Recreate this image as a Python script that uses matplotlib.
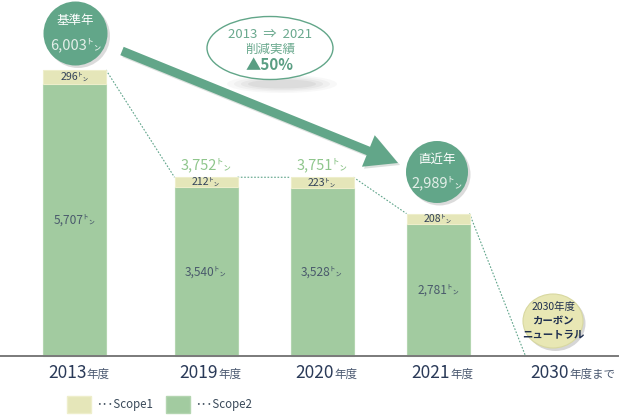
import matplotlib
matplotlib.use("Agg")
import matplotlib.pyplot as plt
from matplotlib.patches import Circle, Ellipse, FancyArrow, Patch

plt.rcParams['font.family'] = ['Noto Sans CJK JP', 'DejaVu Sans']

# ---- data ----
years = ['2013', '2019', '2020', '2021', '2030']
year_suffix = ['年度', '年度', '年度', '年度', '年度まで']
scope1 = [296, 212, 223, 208]
scope2 = [5707, 3540, 3528, 2781]
base_title = '基準年'
recent_title = '直近年'
reduction_lines = ['2013  ⇒  2021', '削減実績', '▲50%']
goal_lines = ['2030年度', 'カーボン', 'ニュートラル']
legend_labels = ['･･･Scope1', '･･･Scope2']
unit = '㌧'

totals = [a + b for a, b in zip(scope1, scope2)]

# ---- layout (pixel based) ----
W, H = 620, 415
x_centers = [74.5, 206, 322, 438, 557]
bar_w = 63
base_px = 356          # baseline from top
top_px = 70            # top of the tallest bar
s = (base_px - top_px) / max(totals)   # px per ton

c_s1 = '#e5e6b9'
c_s2 = '#a2cba0'
c_teal = '#62a689'
c_txt = '#33435a'

fig = plt.figure(figsize=(W / 100, H / 100), dpi=100)
ax = fig.add_axes([0, 0, 1, 1])
ax.set_xlim(0, W)
ax.set_ylim(-(H - base_px) / s, base_px / s)
ax.axis('off')

n = len(scope2)
xs = x_centers[:n]
ax.bar(xs, scope2, width=bar_w, color=c_s2, edgecolor='#b3d5b0', linewidth=0.8, zorder=2)
ax.bar(xs, scope1, bottom=scope2, width=bar_w, color=c_s1, edgecolor='#eeeecb', linewidth=0.8, zorder=2)

# baseline
ax.plot([0, 618], [0, 0], color='#7a7a7a', lw=1.4, zorder=3)

# connector dotted lines
all_tot = totals + [0]
for i in range(len(x_centers) - 1):
    ax.plot([x_centers[i] + bar_w / 2, x_centers[i + 1] - bar_w / 2],
            [all_tot[i], all_tot[i + 1]], color='#5fa48a', lw=0.8,
            ls=(0, (1.5, 1.5)), zorder=1)

# value labels
for i in range(n):
    ax.text(xs[i], scope2[i] + scope1[i] / 2, f'{scope1[i]:,}{unit}', ha='center', va='center',
            fontsize=7.6, color=c_txt, zorder=4)
    ax.text(xs[i], scope2[i] / 2, f'{scope2[i]:,}{unit}', ha='center', va='center',
            fontsize=8.6, color='#4a5a6c', zorder=4)

for i in (1, 2):
    ax.annotate(f'{totals[i]:,}{unit}', (xs[i], totals[i]), xytext=(0, 12),
                textcoords='offset pixels', ha='center', va='center',
                fontsize=10.5, color='#8fc68c', zorder=4)

# ---- overlay in pixel coordinates ----
ov = fig.add_axes([0, 0, 1, 1])
ov.set_xlim(0, W)
ov.set_ylim(H, 0)
ov.axis('off')
ov.patch.set_alpha(0)

# year labels
for xc, yr, suf in zip(x_centers, years, year_suffix):
    ov.text(xc + 12, 378, yr, ha='right', va='baseline', fontsize=12.5, color='#2a3a58')
    ov.text(xc + 12, 378, suf, ha='left', va='baseline', fontsize=8.3, color='#4a5870')

# arrow with shadow
ov.add_patch(FancyArrow(124, 53, 276, 112, width=9, head_width=34, head_length=32,
                        length_includes_head=True, color='#9aa8a0', alpha=0.35, lw=0))
ov.add_patch(FancyArrow(122, 51, 276, 112, width=9, head_width=34, head_length=32,
                        length_includes_head=True, color=c_teal, lw=0))

# circle: base year
def bubble(cx, cy, r, title, value):
    ov.add_patch(Circle((cx + 2.5, cy + 2.5), r, color='#9a9a9a', alpha=0.35, lw=0))
    ov.add_patch(Circle((cx, cy), r, color=c_teal, lw=0))
    ov.text(cx, cy - 13, title, ha='center', va='center', fontsize=9, color='white')
    ov.text(cx, cy + 11, value, ha='center', va='center', fontsize=10.5, color='#e2eee8')

bubble(75.5, 33.5, 32, base_title, f'{totals[0]:,}{unit}')
bubble(437, 172, 31, recent_title, f'{totals[3]:,}{unit}')

# reduction ellipse with soft shadow
for k, a in enumerate([0.05, 0.06, 0.08, 0.10]):
    ov.add_patch(Ellipse((282, 84), 110 - k * 14, 18 - k * 3, color='#808080', alpha=a, lw=0))
ov.add_patch(Ellipse((270, 48), 126, 63, facecolor='white', edgecolor=c_teal, lw=1.0))
ov.text(270, 34, reduction_lines[0], ha='center', va='center', fontsize=9.5, color='#6aa98e')
ov.text(270, 49, reduction_lines[1], ha='center', va='center', fontsize=9, color='#6aa98e')
ov.text(270, 65, reduction_lines[2], ha='center', va='center', fontsize=11, fontweight='bold',
        color='#5a9e83')

# goal bubble
ov.add_patch(Ellipse((555.5, 323.5), 60, 55, color='#9a9a9a', alpha=0.4, lw=0))
ov.add_patch(Ellipse((553, 321), 60, 54, facecolor='#e8e7b4', edgecolor='#d8d8a0', lw=0.8))
ov.text(553, 307, goal_lines[0], ha='center', va='center', fontsize=7.5, color='#1f2f4f')
ov.text(553, 321, goal_lines[1], ha='center', va='center', fontsize=7.5, fontweight='bold',
        color='#1f2f4f')
ov.text(553, 334, goal_lines[2], ha='center', va='center', fontsize=7.5, fontweight='bold',
        color='#1f2f4f')

# legend
handles = [Patch(facecolor=c_s1, edgecolor='#eeeecb'), Patch(facecolor=c_s2, edgecolor='#b3d5b0')]
leg = fig.legend(handles, legend_labels, loc='lower left', bbox_to_anchor=(62 / W, -3 / H),
                 ncol=2, frameon=False, fontsize=8.3, handlelength=2.1, handleheight=2.0,
                 handletextpad=0.45, columnspacing=1.1, borderaxespad=0)
for t in leg.get_texts():
    t.set_color('#3a4a5a')

fig.savefig('out.png', dpi=100)
